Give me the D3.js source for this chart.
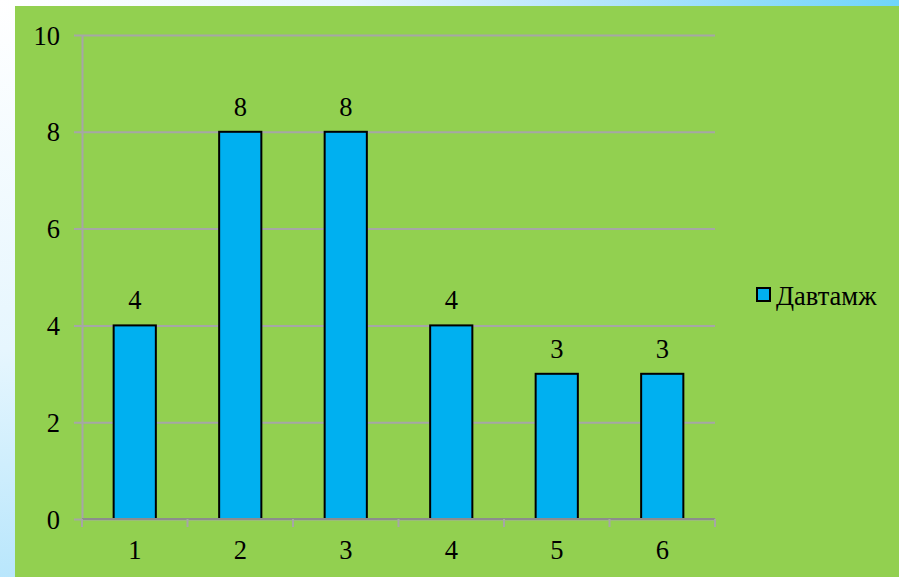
<!DOCTYPE html>
<html>
<head>
<meta charset="utf-8">
<script src="https://cdn.jsdelivr.net/npm/d3@7"></script>
<style>
  html, body { margin: 0; padding: 0; }
  svg { display: block; }
</style>
</head>
<body>
<svg id="chart" width="899" height="577" font-family="Liberation Serif"></svg>
<script>
// Frequency per class
const categories = ["1", "2", "3", "4", "5", "6"];
const values = [4, 8, 8, 4, 3, 3];
const yTicks = [0, 2, 4, 6, 8, 10];
const seriesName = "Давтамж";

const W = 899, H = 577;
const FONT = "Liberation Serif";
const FS = 26.5;
const svg = d3.select("#chart");

// Light backdrop fading from white at the top-left corner into sky blue
const defs = svg.append("defs");
const grad = defs.append("radialGradient")
  .attr("id", "bgGrad")
  .attr("gradientUnits", "userSpaceOnUse")
  .attr("cx", 0).attr("cy", 0).attr("r", 1000);
grad.append("stop").attr("offset", "0%").attr("stop-color", "#ffffff");
grad.append("stop").attr("offset", "35%").attr("stop-color", "#e6f6fe");
grad.append("stop").attr("offset", "58%").attr("stop-color", "#b8e6fc");
grad.append("stop").attr("offset", "90%").attr("stop-color", "#6fd5fa");
grad.append("stop").attr("offset", "100%").attr("stop-color", "#5fd0fa");

svg.append("rect").attr("width", W).attr("height", H).attr("fill", "url(#bgGrad)");

// Green chart panel
svg.append("rect")
  .attr("x", 15).attr("y", 6)
  .attr("width", W - 15).attr("height", H - 6)
  .attr("fill", "#92d050");

const plot = { left: 82, right: 715, top: 35, bottom: 519 };

const x = d3.scaleBand()
  .domain(categories)
  .range([plot.left, plot.right])
  .paddingInner(0.6)
  .paddingOuter(0.3);

const y = d3.scaleLinear()
  .domain([0, 10])
  .range([plot.bottom, plot.top]);

const gridColor = "#a6a6a6";

// Horizontal gridlines with short outside ticks
const yAxis = d3.axisLeft(y)
  .tickValues(yTicks)
  .tickSize(-(plot.right - plot.left))
  .tickSizeOuter(0)
  .tickFormat(d3.format("d"))
  .tickPadding(22);

const gy = svg.append("g")
  .attr("transform", `translate(${plot.left},0)`)
  .call(yAxis)
  .attr("font-family", FONT)
  .attr("font-size", FS);
gy.select(".domain").attr("stroke", gridColor).attr("stroke-width", 2);
gy.selectAll(".tick line")
  .attr("stroke", gridColor).attr("stroke-width", 2)
  .attr("x1", -8);
gy.selectAll(".tick text")
  .attr("font-family", FONT)
  .attr("font-size", FS)
  .attr("fill", "#000")
  .attr("dy", "0.34em");

// Bars
svg.append("g")
  .selectAll("rect")
  .data(values)
  .join("rect")
  .attr("x", (d, i) => x(categories[i]))
  .attr("y", d => y(d))
  .attr("width", x.bandwidth())
  .attr("height", d => y(0) - y(d))
  .attr("fill", "#00b0f0")
  .attr("stroke", "#000")
  .attr("stroke-width", 2);

// Category axis: boundary ticks between classes
const xBound = d3.scaleLinear().domain([0, categories.length]).range([plot.left, plot.right]);
const gx = svg.append("g");
gx.append("line")
  .attr("x1", plot.left).attr("x2", plot.right)
  .attr("y1", y(0)).attr("y2", y(0))
  .attr("stroke", "#8c8c8c").attr("stroke-width", 2);
gx.selectAll("line.tk")
  .data(d3.range(categories.length + 1))
  .join("line")
  .attr("class", "tk")
  .attr("x1", d => xBound(d)).attr("x2", d => xBound(d))
  .attr("y1", y(0)).attr("y2", y(0) + 8)
  .attr("stroke", gridColor).attr("stroke-width", 2);
gx.selectAll("text")
  .data(categories)
  .join("text")
  .attr("x", d => x(d) + x.bandwidth() / 2)
  .attr("y", y(0) + 40)
  .attr("text-anchor", "middle")
  .attr("font-family", FONT)
  .attr("font-size", FS)
  .text(d => d);

// Value labels above bars
svg.append("g")
  .selectAll("text")
  .data(values)
  .join("text")
  .attr("x", (d, i) => x(categories[i]) + x.bandwidth() / 2)
  .attr("y", d => y(d) - 16)
  .attr("text-anchor", "middle")
  .attr("font-family", FONT)
  .attr("font-size", FS)
  .text(d => d);

// Legend
const lg = svg.append("g").attr("transform", "translate(757,288)");
lg.append("rect")
  .attr("width", 13).attr("height", 13)
  .attr("fill", "#00b0f0").attr("stroke", "#000").attr("stroke-width", 2);
lg.append("text")
  .attr("x", 19).attr("y", 17)
  .attr("font-family", FONT)
  .attr("font-size", FS)
  .text(seriesName);
</script>
</body>
</html>
